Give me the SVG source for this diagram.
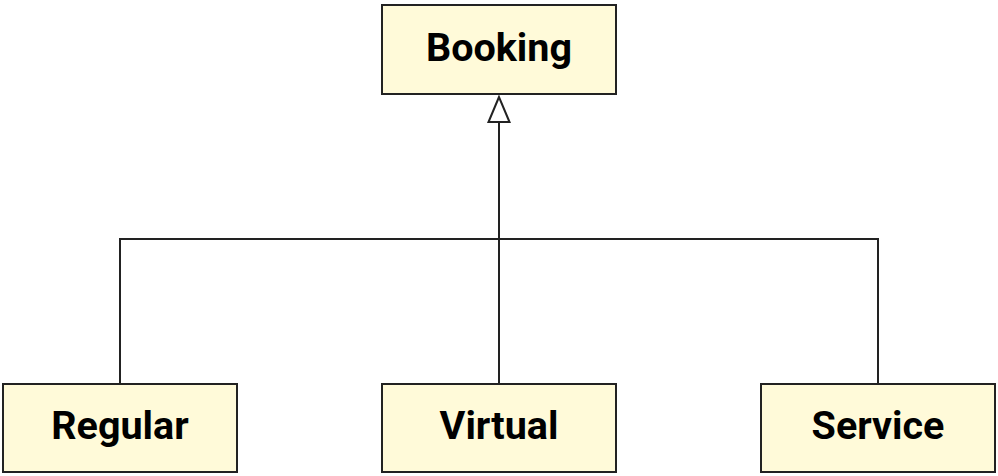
<svg xmlns="http://www.w3.org/2000/svg" width="998" height="476" viewBox="0 0 998 476">
<style>
.node rect{fill:#fffad9;stroke:#222;stroke-width:2}
.node text{font-family:Roboto,"Liberation Sans",sans-serif;font-weight:bold;font-size:39.5px;fill:#000;text-anchor:middle}
.conn{fill:none;stroke:#222;stroke-width:2}
</style>
<rect width="998" height="476" fill="#fff"/>
<g id="connectors">
<path class="conn" d="M120 384V239H878V384"/>
<path class="conn" d="M499 384V122"/>
<polygon points="499,97 488.5,122 509.5,122" fill="#fff" stroke="#222" stroke-width="2"/>
</g>
<g id="booking" class="node"><rect x="382" y="5" width="234" height="89"/><text x="499" y="61">Booking</text></g>
<g id="regular" class="node"><rect x="3" y="384" width="234" height="88"/><text x="120" y="439">Regular</text></g>
<g id="virtual" class="node"><rect x="382" y="384" width="234" height="88"/><text x="499" y="439">Virtual</text></g>
<g id="service" class="node"><rect x="761" y="384" width="234" height="88"/><text x="878" y="439">Service</text></g>
</svg>
